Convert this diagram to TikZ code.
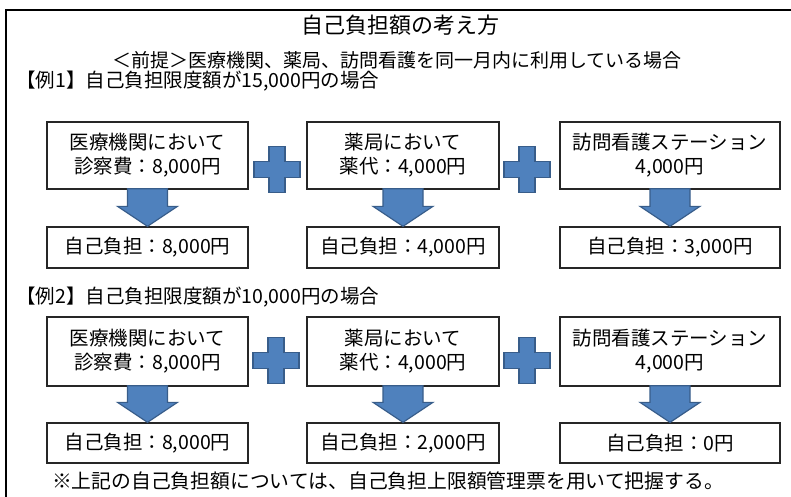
\documentclass[tikz,border=0pt]{standalone}
\usepackage{fontspec}
\setmainfont{Noto Sans CJK JP}
\usetikzlibrary{calc}

\definecolor{plusblue}{HTML}{4F81BD}
\definecolor{plusedge}{HTML}{385D8A}

\tikzset{
	bluefill/.style={fill=plusblue,draw=plusedge,line width=1.2pt,line join=miter},
	costbox/.style={draw=black!85,line width=1.3pt,inner sep=0pt,align=center,
		font=\fontsize{19.5}{24}\selectfont},
	headtext/.style={inner sep=0pt,font=\fontsize{19}{22}\selectfont}}

% block arrow from the bottom of one box to the top of another
\newcommand{\blockdown}[2]{%
	\path[bluefill] ($(#1.south)+(-20,-1)$) -- ($(#2.north)+(-20,-20)$)
		-- ($(#2.north)+(-30,-20)$) -- (#2.north) -- ($(#2.north)+(30,-20)$)
		-- ($(#2.north)+(20,-20)$) -- ($(#1.south)+(20,-1)$) -- cycle;}
% plus sign between two boxes
\newcommand{\plusmark}[1]{%
	\path[bluefill,shift={(#1)}] (-8,-23) -- (8,-23) -- (8,-8) -- (23,-8)
		-- (23,8) -- (8,8) -- (8,23) -- (-8,23) -- (-8,8) -- (-23,8)
		-- (-23,-8) -- (-8,-8) -- cycle;}

\begin{document}
\begin{tikzpicture}[x=1pt,y=-1pt]
\useasboundingbox (0,0) rectangle (791,497);
\draw[line width=1.3pt] (6,497) -- (6,10) -- (791,10);

\node[inner sep=0pt,font=\fontsize{22}{26}\selectfont] (title) at (400,25) {自己負担額の考え方};
\node[headtext] (premise) at (397,60) {＜前提＞医療機関、薬局、訪問看護を同一月内に利用している場合};
\node[headtext,anchor=west,font=\fontsize{19.5}{22}\selectfont] (caseA) at (16,81.5) {【例1】自己負担限度額が15,000円の場合};

% example 1
\node[costbox,minimum width=201pt,minimum height=67pt] (clinicA) at (147.5,155.5) {医療機関において\\診察費：8,000円};
\node[costbox,minimum width=192pt,minimum height=67pt] (pharmA) at (403,155.5) {薬局において\\薬代：4,000円};
\node[costbox,minimum width=220pt,minimum height=67pt] (visitA) at (670,155.5) {訪問看護ステーション\\4,000円};
\node[costbox,minimum width=201pt,minimum height=41pt] (payclinicA) at (147.5,247.5) {自己負担：8,000円};
\node[costbox,minimum width=192pt,minimum height=41pt] (paypharmA) at (403,247.5) {自己負担：4,000円};
\node[costbox,minimum width=220pt,minimum height=41pt] (payvisitA) at (670,247.5) {自己負担：3,000円};
\plusmark{277,169.5}
\plusmark{527,169.5}
\blockdown{clinicA}{payclinicA}
\blockdown{pharmA}{paypharmA}
\blockdown{visitA}{payvisitA}

\node[headtext,anchor=west,font=\fontsize{19.5}{22}\selectfont] (caseB) at (16,297) {【例2】自己負担限度額が10,000円の場合};

% example 2
\node[costbox,minimum width=201pt,minimum height=69pt] (clinicB) at (147.5,351.5) {医療機関において\\診察費：8,000円};
\node[costbox,minimum width=192pt,minimum height=69pt] (pharmB) at (403,351.5) {薬局において\\薬代：4,000円};
\node[costbox,minimum width=220pt,minimum height=69pt] (visitB) at (670,351.5) {訪問看護ステーション\\4,000円};
\node[costbox,minimum width=201pt,minimum height=40pt] (payclinicB) at (147.5,443) {自己負担：8,000円};
\node[costbox,minimum width=192pt,minimum height=40pt] (paypharmB) at (403,443) {自己負担：2,000円};
\node[costbox,minimum width=220pt,minimum height=40pt] (payvisitB) at (670,443) {自己負担：0円};
\plusmark{276,360.5}
\plusmark{527,360.5}
\blockdown{clinicB}{payclinicB}
\blockdown{pharmB}{paypharmB}
\blockdown{visitB}{payvisitB}

\node[headtext,font=\fontsize{19.8}{22}\selectfont] (note) at (388,481) {※上記の自己負担額については、自己負担上限額管理票を用いて把握する。};
\end{tikzpicture}
\end{document}
